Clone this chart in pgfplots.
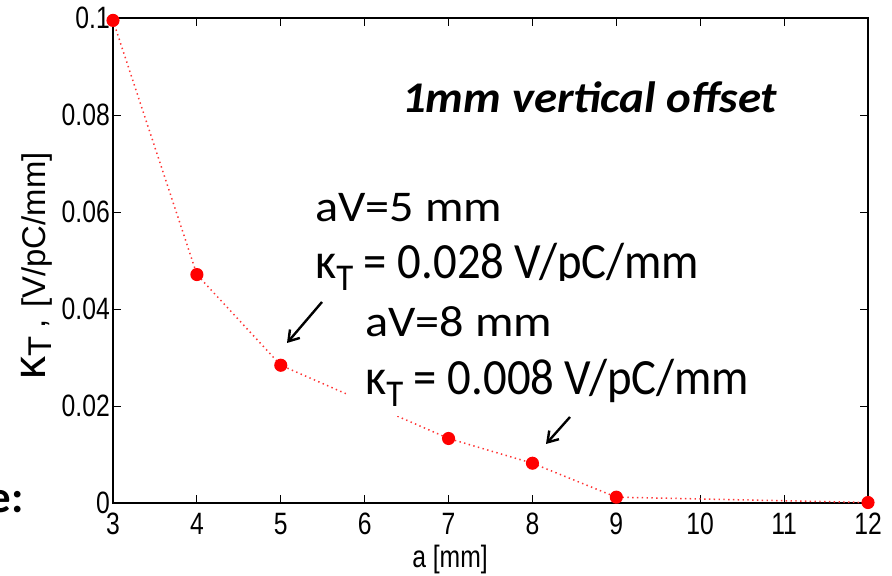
\documentclass[border=0pt]{standalone}
\usepackage{pgfplots}
\pgfplotsset{compat=1.18}
\usepackage{pgfplotstable}
\usepackage{fontspec}
\usetikzlibrary{arrows.meta}
\setmainfont{Carlito}
% narrow Helvetica-like face for the axis text
\newfontfamily\helvn{Liberation Sans}[FakeStretch=0.8]
\newfontfamily\helv{Liberation Sans}
% annotation faces
\newfontfamily\calwide{Carlito}[FakeStretch=1.1]
\newfontfamily\calnarrow{Carlito}[FakeStretch=0.92]
\newfontfamily\calbi{Carlito}[FakeStretch=1.07,UprightFont=*-BoldItalic]

\newcommand\tickfont{\helvn\fontsize{31}{31}\selectfont}
\newcommand\annA{\calwide\fontsize{44}{44}\selectfont}
\newcommand\annB{\calnarrow\fontsize{51}{51}\selectfont}
\newcommand\kT{κ\raisebox{-12bp}{\fontsize{38}{38}\selectfont T}}

% transverse kick factor versus aperture
\pgfplotstableread{
a kt
3 0.0995
4 0.0471
5 0.0284
7 0.0133
8 0.0082
9 0.0012
12 0.0001
}\kttable

\begin{document}
\begin{tikzpicture}[x=1bp,y=1bp]
\useasboundingbox (0,0) rectangle (892,576);
\begin{axis}[
  at={(113bp,73bp)}, anchor=south west,
  scale only axis, width=755bp, height=485bp,
  xmin=3, xmax=12, ymin=0, ymax=0.1,
  xtick={3,4,5,6,7,8,9,10,11,12},
  ytick={0,0.02,0.04,0.06,0.08,0.1},
  yticklabels={0,0.02,0.04,0.06,0.08,0.1},
  tick align=inside, major tick length=8bp,
  axis line style={line width=1.1bp},
  every tick/.style={black, line width=0.9bp},
  ticklabel style={font=\tickfont, inner sep=0pt},
  xticklabel style={anchor=north, yshift=-10bp},
  yticklabel style={anchor=east, xshift=-3bp},
  /pgf/number format/assume math mode=true,
  clip=false,
]
\addplot[red!80, line width=1.5bp, dash pattern=on 1.4bp off 3.4bp,
  mark=*, mark size=5.8bp, mark options={solid, fill=red, draw=red}]
  table[x=a, y=kt] {\kttable};
\end{axis}

% y axis label
\node[rotate=90, anchor=base west, inner sep=0pt] at (45,196)
  {{\helv\fontsize{46}{46}\selectfont κ}{\helv\fontsize{33}{33}\selectfont\raisebox{-6bp}{T}\hspace{8bp},\hspace{12bp}[V/pC/mm]}};
% x axis label
\node[anchor=base, inner sep=0pt] at (450,8) {\helvn\fontsize{31}{31}\selectfont a [mm]};

% title inside the plot
\node[anchor=base west, inner sep=0pt] at (402,463)
  {\calbi\fontsize{44}{44}\selectfont 1mm vertical offset};

% annotation for aV = 5 mm
\node[anchor=base west, inner sep=0pt] at (315,354) {\annA aV=5 mm};
\node[anchor=base west, inner sep=0pt] at (315,297) {\annB \kT\ = 0.028 V/pC/mm};

% annotation box for aV = 8 mm
\fill[white] (348,160) rectangle (800,295);
\node[anchor=base west, inner sep=0pt] at (365,239) {\annA aV=8 mm};
\node[anchor=base west, inner sep=0pt] at (365,181) {\annB \kT\ = 0.008 V/pC/mm};

% pointers
\draw[line width=2.4bp, -{Straight Barb[length=10bp,width=13bp]}] (322,274) -- (287,233);
\draw[line width=2.4bp, -{Straight Barb[length=10bp,width=13bp]}] (570,159) -- (546,132);

% slide text at the left edge
\node[anchor=base east, inner sep=0pt] at (24,63)
  {\fontsize{45}{45}\selectfont\bfseries e:};
\end{tikzpicture}
\end{document}
